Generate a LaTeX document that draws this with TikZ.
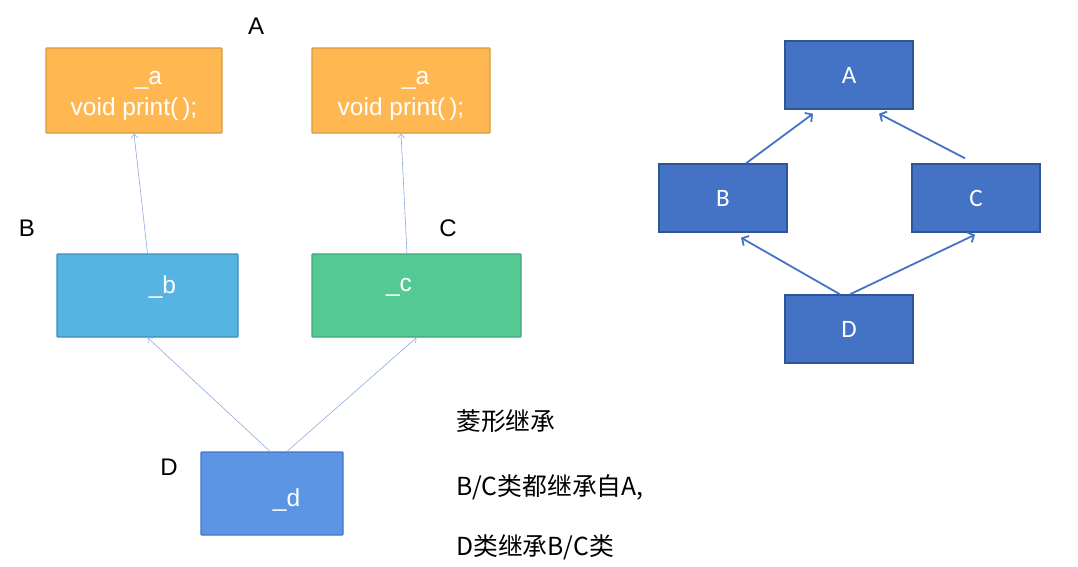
\documentclass[tikz,border=0pt]{standalone}
\usepackage{fontspec}
\setmainfont{Liberation Sans}
\newfontfamily\cjkfont{Noto Sans CJK SC}
\newfontfamily\calfont{Carlito}
\usetikzlibrary{arrows.meta,calc}
\definecolor{orfill}{HTML}{FFB752}
\definecolor{ordraw}{HTML}{D49A45}
\definecolor{bfill}{HTML}{56B4E3}
\definecolor{bdraw}{HTML}{3C8DBC}
\definecolor{gfill}{HTML}{54C994}
\definecolor{gdraw}{HTML}{3DA676}
\definecolor{dfill}{HTML}{5B95E4}
\definecolor{ddraw}{HTML}{4276C6}
\definecolor{rfill}{HTML}{4472C4}
\definecolor{rdraw}{HTML}{2F5597}
\definecolor{thinline}{HTML}{8FAADC}
\begin{document}
\begin{tikzpicture}[x=1pt,y=-1pt,
  box/.style={draw, line width=1.2pt, inner sep=0pt, rounded corners=0.8pt},
  boxtext/.style={text=white, font=\fontsize{24.5}{28}\selectfont, inner sep=0pt, align=center},
  lbl/.style={font=\fontsize{24}{28}\selectfont, text=black, inner sep=0pt},
  cjktext/.style={font=\cjkfont\fontsize{24.8}{30}\selectfont, anchor=west, inner sep=0pt, text=black},
  thinarrow/.style={draw=thinline, line width=0.6pt, -{Straight Barb[length=4pt,width=7pt]}},
  rbox/.style={draw=rdraw, fill=rfill, line width=1.4pt, inner sep=0pt, text=white, font=\calfont\fontsize{25}{30}\selectfont},
  rarrow/.style={draw=rfill, line width=1.8pt, -{Straight Barb[length=5pt,width=11pt]}}
]
\useasboundingbox (0,0) rectangle (1078,566);
% left diagram boxes
\node[box, draw=ordraw, fill=orfill, minimum width=176pt, minimum height=85pt] (A1) at (134,90.5) {};
\node[box, draw=ordraw, fill=orfill, minimum width=178pt, minimum height=85pt] (A2) at (401,90.5) {};
\node[box, draw=bdraw, fill=bfill, minimum width=181pt, minimum height=83pt] (B) at (147.5,295.5) {};
\node[box, draw=gdraw, fill=gfill, minimum width=209pt, minimum height=83pt] (C) at (416.5,295.5) {};
\node[box, draw=ddraw, fill=dfill, minimum width=142pt, minimum height=83pt] (D) at (272,493.5) {};
% box texts
\node[boxtext] (ta1) at ($(A1.center)+(14.5,-10.5)$) {\_a};
\node[boxtext] (tp1) at ($(A1.center)+(0,18.5)$) {void print(\thinspace);};
\node[boxtext] (ta2) at ($(A2.center)+(14.5,-10.5)$) {\_a};
\node[boxtext] (tp2) at ($(A2.center)+(0,18.5)$) {void print(\thinspace);};
\node[boxtext] (tb) at ($(B.center)+(15,-8.5)$) {\_b};
\node[boxtext] (tc) at ($(C.center)+(-17.5,-8)$) {\_c};
\node[boxtext] (td) at ($(D.center)+(14.5,7)$) {\_d};
% labels
\node[lbl] (la) at (256,26.5) {A};
\node[lbl] (lb) at (27,228) {B};
\node[lbl] (lc) at (448,228) {C};
\node[lbl] (ld) at (169,467) {D};
% thin arrows
\draw[thinarrow] (B.north) -- (A1.south);
\draw[thinarrow] ($(C.north)+(-9.5,0)$) -- (A2.south);
\draw[thinarrow] ($(D.north)+(-2,0)$) -- (B.south);
\draw[thinarrow] ($(D.north)+(15,0)$) -- (C.south);
% chinese text
\node[cjktext] (t1) at (456,421.5) {菱形继承};
\node[cjktext] (t2) at (456,487) {B/C类都继承自A,};
\node[cjktext] (t3) at (456,547.5) {D类继承B/C类};
% right diagram
\node[rbox, minimum width=128pt, minimum height=68pt] (RA) at (849,75) {A};
\node[rbox, minimum width=128pt, minimum height=68pt] (RB) at (723,198) {B};
\node[rbox, minimum width=128pt, minimum height=68pt] (RC) at (976,198) {C};
\node[rbox, minimum width=128pt, minimum height=68pt] (RD) at (849,329) {D};
\draw[rarrow] ($(RB.north)+(23,0)$) -- ($(RA.south)+(-36,4)$);
\draw[rarrow] ($(RC.north)+(-11,-5)$) -- ($(RA.south)+(30,4)$);
\draw[rarrow] ($(RD.north)+(-9,0)$) -- ($(RB.south)+(18,5)$);
\draw[rarrow] ($(RD.north)+(1,0)$) -- ($(RC.south)+(-1,2)$);
\end{tikzpicture}
\end{document}
